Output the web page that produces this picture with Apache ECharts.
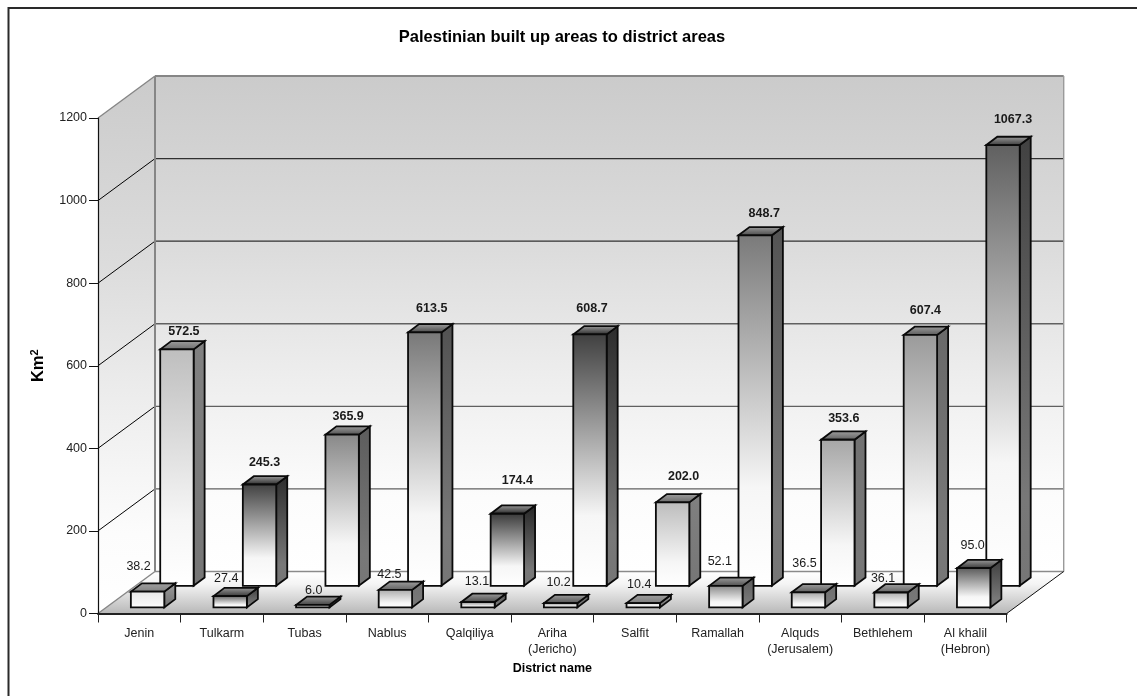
<!DOCTYPE html>
<html>
<head>
<meta charset="utf-8">
<style>html,body{margin:0;padding:0;background:#fff}#chart{width:1137px;height:696px}</style>
<script src="https://cdn.jsdelivr.net/npm/echarts@6/dist/echarts.min.js"></script>
</head>
<body>
<div id="chart"></div>
<script>
// District names, as tick labels on the category axis
const districts = ['Jenin', 'Tulkarm', 'Tubas', 'Nablus', 'Qalqiliya', 'Ariha\n(Jericho)', 'Salfit', 'Ramallah', 'Alquds\n(Jerusalem)', 'Bethlehem', 'Al khalil\n(Hebron)'];
// Built up area (front row) and whole district area (back row), km2
const builtUp = [38.2, 27.4, 6.0, 42.5, 13.1, 10.2, 10.4, 52.1, 36.5, 36.1, 95.0];
const districtArea = [572.5, 245.3, 365.9, 613.5, 174.4, 608.7, 202.0, 848.7, 353.6, 607.4, 1067.3];
const yTicks = [0, 200, 400, 600, 800, 1000, 1200];

// Face shade at the top of each box; every box fades to white towards its foot
const builtUpShade = ['#e6e6e6', '#585858', '#6a6a6a', '#a8a8a8', '#7c7c7c', '#8a8a8a', '#dcdcdc', '#858585', '#a0a0a0', '#aaaaaa', '#585858'];
const areaShade = ['#bebebe', '#404040', '#888888', '#787878', '#383838', '#404040', '#bcbcbc', '#7a7a7a', '#a6a6a6', '#9a9a9a', '#606060'];
// Hand placed value labels: [dx, lift] from the top of the front face, in pixels
const builtUpLabelPlace = [[-9, 25], [-4, 18], [1, 14], [-6, 15], [-1, 20], [-2, 21], [-4, 19], [-6, 24], [-4, 29], [-8, 14], [-1, 23]];
const areaLabelPlace = [[7, 18], [5, 22], [6, 18], [7, 24], [10, 33], [2, 26], [11, 26], [9, 22], [6, 21], [5, 24], [10, 26]];

// Projection of the chart's depth axis onto the page
const DEPTH = { x: 57, y: -42 };
const ROW_FRONT = 0.145, ROW_BACK = 0.66, BOX_DEPTH = { x: 11, y: -8.3 }, BOX_W = 33.4;
const FONT = '"Liberation Sans", Arial, sans-serif';

const vGrad = (stops) => ({ type: 'linear', x: 0, y: 0, x2: 0, y2: 1, colorStops: stops.map(([offset, color]) => ({ offset, color })) });
const poly = (points, fill, stroke, lineWidth) => ({
  type: 'polygon', shape: { points },
  style: { fill, stroke: stroke || 'none', lineWidth: lineWidth || 0, lineJoin: 'miter' }
});
const seg = (a, b, stroke, lineWidth) => ({
  type: 'line', shape: { x1: a[0], y1: a[1], x2: b[0], y2: b[1] }, style: { stroke, lineWidth }
});
const shift = (p, k) => [p[0] + DEPTH.x * k, p[1] + DEPTH.y * k];

function darken(hex, f) {
  const v = Math.round(parseInt(hex.slice(1, 3), 16) * f).toString(16).padStart(2, '0');
  return '#' + v + v + v;
}

// Walls, floor and gridlines, drawn from the value axis ticks
function renderRoom(params, api) {
  if (params.dataIndex !== 0) return null;
  const n = districts.length;
  const c0 = api.coord([0, 0]), size = api.size([1, 0])[0];
  const xl = c0[0] - size / 2, xr = xl + size * n;
  const yOf = (v) => api.coord([0, v])[1];
  const y0 = yOf(0), yTop = yOf(yTicks[yTicks.length - 1]);
  const wall = vGrad([[0, '#cbcbcb'], [0.35, '#dcdcdc'], [0.6, '#ededed'], [0.85, '#fcfcfc'], [1, '#ffffff']]);
  const kids = [];
  kids.push(poly([shift([xl, yTop], 1), shift([xr, yTop], 1), shift([xr, y0], 1), shift([xl, y0], 1)], wall));
  kids.push(poly([[xl, yTop], shift([xl, yTop], 1), shift([xl, y0], 1), [xl, y0]], wall));
  kids.push(poly([[xl, y0], [xr, y0], shift([xr, y0], 1), shift([xl, y0], 1)],
    vGrad([[0, '#ffffff'], [0.3, '#f4f4f4'], [1, '#b8b8b8']])));
  yTicks.slice(1, -1).forEach((v) => {
    const a = [xl, yOf(v)], b = shift(a, 1), c = shift([xr, yOf(v)], 1);
    const back = v >= 800 ? '#303030' : '#606060';
    kids.push(seg(a, b, '#000000', 1));
    kids.push(seg(b, c, back, 1.4));
  });
  kids.push(seg(shift([xl, y0], 1), shift([xr, y0], 1), '#8a8a8a', 1.6));
  kids.push(seg(shift([xl, yTop], 1), shift([xr, yTop], 1), '#868686', 2));
  kids.push(seg(shift([xl, yTop], 1), shift([xl, y0], 1), '#868686', 2));
  kids.push(seg(shift([xr, yTop], 1), shift([xr, y0], 1), '#9a9a9a', 1.4));
  kids.push(seg([xl, yTop], shift([xl, yTop], 1), '#868686', 1.4));
  kids.push(seg([xl, y0], shift([xl, y0], 1), '#868686', 1.4));
  kids.push(seg([xr, y0], shift([xr, y0], 1), '#101010', 1));
  return { type: 'group', children: kids };
}

// One box in a row: front face, top face and right side
function renderBox(row, shades) {
  return function (params, api) {
    const i = api.value(0), v = api.value(1);
    const foot = shift(api.coord([i, 0]), row), head = shift(api.coord([i, v]), row);
    const l = foot[0] - BOX_W / 2, r = l + BOX_W, b = foot[1], t = head[1];
    const d = BOX_DEPTH, shade = shades[i];
    const side = vGrad([[0, darken(shade, 0.68)], [0.8, '#787878'], [1, '#767676']]);
    const top = vGrad([[0, '#a2a2a2'], [1, darken(shade, 0.55)]]);
    const face = vGrad([[0, shade], [0.72, '#f6f6f6'], [1, '#ffffff']]);
    const S = '#0a0a0a', W = 1.8;
    return {
      type: 'group',
      children: [
        poly([[r, t], [r + d.x, t + d.y], [r + d.x, b + d.y], [r, b]], side, S, W),
        poly([[l, t], [l + d.x, t + d.y], [r + d.x, t + d.y], [r, t]], top, S, W),
        poly([[l, t], [r, t], [r, b], [l, b]], face, S, W)
      ]
    };
  };
}

// Value above a box; placement comes from the per-label table
function renderValue(row, places, bold) {
  return function (params, api) {
    const i = api.value(0), v = api.value(1);
    const head = shift(api.coord([i, v]), row);
    const [dx, lift] = places[i];
    return {
      type: 'text',
      style: {
        x: head[0] + dx, y: head[1] - lift,
        text: v.toFixed(1), align: 'center', verticalAlign: 'middle',
        font: (bold ? 'bold ' : '') + '12.5px ' + FONT, fill: '#1a1a1a'
      }
    };
  };
}

const pairs = (arr) => arr.map((v, i) => [i, v]);
const quiet = { animation: false, silent: true, clip: false };

const chart = echarts.init(document.getElementById('chart'), null, { renderer: 'canvas' });
chart.setOption({
  animation: false,
  backgroundColor: '#ffffff',
  title: {
    text: 'Palestinian built up areas to district areas',
    left: 557, top: 24, textAlign: 'center',
    textStyle: { fontFamily: FONT, fontWeight: 'bold', fontSize: 16.5, color: '#000' }
  },
  grid: { left: 98, right: 130.3, top: 118, bottom: 82.5, containLabel: false },
  xAxis: {
    type: 'category', data: districts, boundaryGap: true, z: 10,
    name: 'District name', nameLocation: 'middle', nameGap: 46,
    nameTextStyle: { fontFamily: FONT, fontWeight: 'bold', fontSize: 12.5, color: '#000' },
    axisLine: { show: true, lineStyle: { color: '#222', width: 2 } },
    axisTick: { show: true, alignWithLabel: false, length: 9, lineStyle: { color: '#222', width: 1 } },
    axisLabel: { interval: 0, fontFamily: FONT, fontSize: 12.5, color: '#222', margin: 12, lineHeight: 16 },
    splitLine: { show: false }
  },
  yAxis: {
    type: 'value', min: 0, max: 1200, interval: 200, z: 10,
    name: '{km|Km}{sup|2}', nameLocation: 'middle', nameGap: 50, nameRotate: 90,
    nameTextStyle: {
      rich: {
        km: { fontFamily: FONT, fontWeight: 'bold', fontSize: 16.5, color: '#000' },
        sup: { fontFamily: FONT, fontWeight: 'bold', fontSize: 11, color: '#000', verticalAlign: 'top', padding: [0, 0, 8, 0] }
      }
    },
    axisLine: { show: true, lineStyle: { color: '#111', width: 1.2 } },
    axisTick: { show: true, length: 9, lineStyle: { color: '#111', width: 1 } },
    axisLabel: { fontFamily: FONT, fontSize: 12.5, color: '#222', margin: 11, formatter: (v) => String(v) },
    splitLine: { show: false }
  },
  graphic: [
    // Chart border: left and top edges only, running off the page
    { type: 'polyline', z: 100, silent: true,
      shape: { points: [[8.5, 696], [8.5, 8], [1137, 8]] },
      style: { stroke: '#2a2a2a', lineWidth: 2, fill: 'none' } }
  ],
  series: [
    { ...quiet, type: 'custom', z: 1, renderItem: renderRoom, data: pairs(districtArea) },
    { ...quiet, type: 'custom', z: 2, renderItem: renderValue(ROW_FRONT, builtUpLabelPlace, false), data: pairs(builtUp) },
    { ...quiet, type: 'custom', z: 3, renderItem: renderBox(ROW_BACK, areaShade), data: pairs(districtArea) },
    { ...quiet, type: 'custom', z: 4, renderItem: renderBox(ROW_FRONT, builtUpShade), data: pairs(builtUp) },
    { ...quiet, type: 'custom', z: 5, renderItem: renderValue(ROW_BACK, areaLabelPlace, true), data: pairs(districtArea) }
  ]
});
</script>
</body>
</html>
